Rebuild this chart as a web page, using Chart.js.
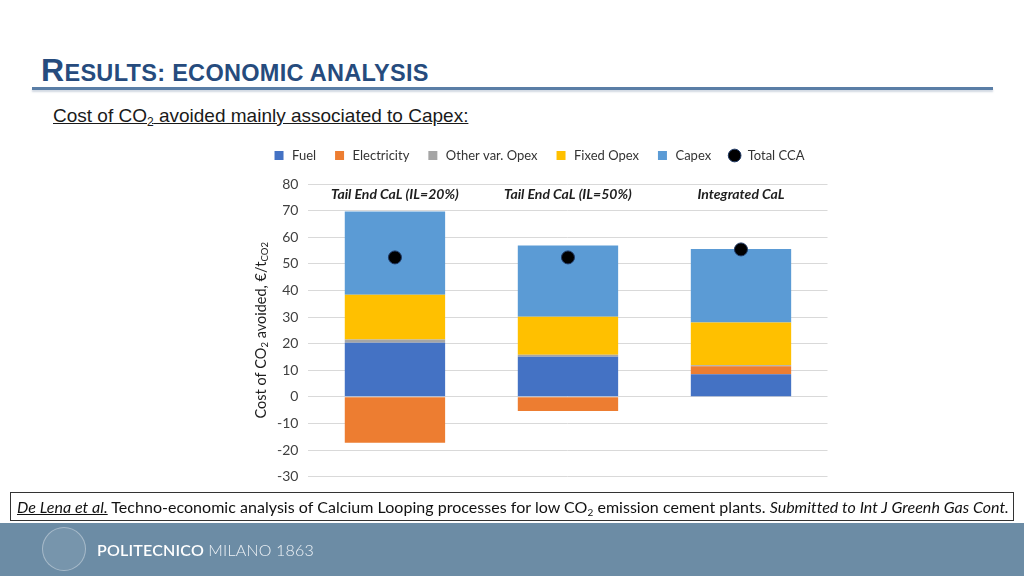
<!DOCTYPE html>
<html>
<head>
<meta charset="utf-8">
<script src="https://cdn.jsdelivr.net/npm/chart.js@4/dist/chart.umd.min.js"></script>
<style>
    html, body { margin: 0; padding: 0; background: #fff; }
    body { width: 1024px; height: 576px; position: relative; overflow: hidden; font-family: 'Liberation Sans', Arial, sans-serif; }
    .title { position: absolute; left: 41px; top: 52px; color: #264b7d; font-weight: bold; font-size: 23.5px; letter-spacing: 0.3px; }
    .title .big { font-size: 32px; }
    .rule { position: absolute; left: 32px; top: 87px; width: 961px; height: 3px; background: #5a7ea6; box-shadow: 0 2px 2px rgba(120,140,170,0.35); }
    .subtitle { position: absolute; left: 53px; top: 105px; font-size: 19px; color: #1a1a1a; text-decoration: underline; }
    .subtitle sub { font-size: 12px; vertical-align: -4px; }
    #chartWrap { position: absolute; left: 234px; top: 132px; width: 601px; height: 363px; }
    .cite { position: absolute; left: 10px; top: 492px; width: 1002px; height: 27px; border: 1px solid #333; box-sizing: content-box;
            font-family: Lato, sans-serif; font-size: 16px; color: #111; line-height: 27px; white-space: nowrap; letter-spacing: 0.03px; }
    .cite span.t { display: inline-block; padding-left: 6px; }
    .cite sub { font-size: 10px; vertical-align: -3px; line-height: 0; }
    .band { position: absolute; left: 0; top: 523px; width: 1024px; height: 53px; background: #6c8ca5; }
    .logo { position: absolute; left: 42px; top: 4px; width: 44px; height: 44px; border-radius: 50%;
            border: 1px solid rgba(255,255,255,0.35); background: rgba(255,255,255,0.08); box-sizing: border-box; }
    .brand { position: absolute; left: 97px; top: 17px; font-family: Lato, sans-serif; font-size: 16px; color: #fff; letter-spacing: 0.2px; }
    .brand b { font-weight: 600; }
    .brand span { font-weight: 300; color: #eef2f6; }
</style>
</head>
<body>
<div class="title"><span class="big">R</span>ESULTS: ECONOMIC ANALYSIS</div>
<div class="rule"></div>
<div class="subtitle">Cost of CO<sub>2</sub> avoided mainly associated to Capex:</div>

<div id="chartWrap"><canvas id="ccaChart"></canvas></div>

<div class="cite"><span class="t" id="citeText"><u><i>De Lena et al.</i></u> Techno-economic analysis of Calcium Looping processes for low CO<sub>2</sub> emission cement plants. <i>Submitted to Int J Greenh Gas Cont.</i></span></div>

<div class="band">
    <div class="logo"></div>
    <div class="brand"><b>POLITECNICO</b> <span>MILANO 1863</span></div>
</div>

<script>
// === DATA (€/t CO2 avoided) ===
const categories = ['Tail End CaL (IL=20%)', 'Tail End CaL (IL=50%)', 'Integrated CaL'];
const fuel = [20.3, 15.1, 8.5];
const electricity = [-17.3, -5.3, 3.0];
const otherVarOpex = [1.2, 0.7, 0.4];
const fixedOpex = [16.9, 14.3, 16.0];
const capex = [31.3, 26.8, 27.7];
const totalCCA = [52.4, 52.4, 55.4];
const yMin = -30, yMax = 80, yStep = 10;

const FONT = 'Lato, "Open Sans", sans-serif';

// category names sit inside the plot, just under the 80 gridline
const categoryLabels = {
    id: 'categoryLabels',
    afterDatasetsDraw(chart) {
        const { ctx, scales: { x, y } } = chart;
        ctx.save();
        ctx.font = 'italic bold 14px ' + FONT;
        ctx.fillStyle = '#1e1e1e';
        ctx.textAlign = 'center';
        ctx.textBaseline = 'middle';
        categories.forEach((c, i) => {
            ctx.fillText(c, x.getPixelForValue(i), y.getPixelForValue(76.2));
        });
        ctx.restore();
    }
};

// rotated y title with subscripts
const yTitle = {
    id: 'yTitle',
    afterDraw(chart) {
        const { ctx, chartArea } = chart;
        const parts = [
            ['Cost of CO', 14.5, 0], ['2', 9.5, 3], [' avoided, €/t', 14.5, 0], ['CO2', 9.5, 3]
        ];
        ctx.save();
        let total = 0;
        parts.forEach(p => { ctx.font = p[1] + 'px ' + FONT; total += ctx.measureText(p[0]).width; });
        ctx.translate(chartArea.left - 47, (chartArea.top + chartArea.bottom) / 2);
        ctx.rotate(-Math.PI / 2);
        ctx.fillStyle = '#1e1e1e';
        ctx.textBaseline = 'middle';
        let xPos = -total / 2;
        parts.forEach(p => {
            ctx.font = p[1] + 'px ' + FONT;
            ctx.fillText(p[0], xPos, p[2]);
            xPos += ctx.measureText(p[0]).width;
        });
        ctx.restore();
    }
};

// a bit more room between legend and plot
const legendGap = {
    id: 'legendGap',
    beforeInit(chart) {
        const fit = chart.legend.fit;
        chart.legend.fit = function () {
            fit.bind(chart.legend)();
            this.height += 12;
        };
    }
};

function barSet(label, data, color) {
    return {
        type: 'bar',
        label: label,
        data: data,
        backgroundColor: color,
        borderWidth: 0,
        stack: 'cost',
        order: 1,
        barPercentage: 0.58,
        categoryPercentage: 1,
    };
}

function createChart() {
    const ctx = document.getElementById('ccaChart').getContext('2d');
    new Chart(ctx, {
        data: {
            labels: categories,
            datasets: [
                barSet('Fuel', fuel, '#4472c4'),
                barSet('Electricity', electricity, '#ed7d31'),
                barSet('Other var. Opex', otherVarOpex, '#a5a5a5'),
                barSet('Fixed Opex', fixedOpex, '#ffc000'),
                barSet('Capex', capex, '#5b9bd5'),
                {
                    type: 'line',
                    label: 'Total CCA',
                    data: totalCCA,
                    showLine: false,
                    stack: 'total',
                    order: 0,
                    pointRadius: 6.5,
                    pointStyle: 'circle',
                    pointBackgroundColor: '#000000',
                    pointBorderColor: '#1f3864',
                    pointBorderWidth: 1,
                    borderColor: '#1f3864',
                    backgroundColor: '#000000',
                }
            ]
        },
        options: {
            responsive: true,
            maintainAspectRatio: false,
            animation: false,
            layout: { padding: { left: 13, right: 5, top: 0, bottom: 4 } },
            plugins: {
                legend: {
                    display: true,
                    position: 'top',
                    labels: {
                        color: '#333',
                        font: { size: 13, family: FONT },
                        usePointStyle: true,
                        boxHeight: 9,
                        padding: 17,
                        sort: (a, b) => a.datasetIndex - b.datasetIndex,
                        generateLabels(chart) {
                            const items = Chart.defaults.plugins.legend.labels.generateLabels(chart);
                            items.forEach(it => {
                                const ds = chart.data.datasets[it.datasetIndex];
                                if (ds.type === 'line') {
                                    it.pointStyle = 'circle';
                                    it.fillStyle = '#000';
                                    it.strokeStyle = '#1f3864';
                                    it.lineWidth = 1;
                                } else {
                                    it.pointStyle = 'rect';
                                    it.lineWidth = 0;
                                }
                            });
                            return items;
                        }
                    }
                },
                tooltip: { enabled: false }
            },
            scales: {
                x: {
                    display: false,
                    stacked: true,
                },
                y: {
                    stacked: true,
                    min: yMin,
                    max: yMax,
                    // leave room for the hand-drawn axis title
                    afterFit(scale) { scale.width += 20; },
                    ticks: { stepSize: yStep, color: '#404040', padding: 10, font: { size: 14, family: FONT } },
                    grid: { color: '#d9d9d9', lineWidth: 1, drawTicks: false },
                    border: { display: false }
                }
            }
        },
        plugins: [categoryLabels, yTitle, legendGap]
    });
}

document.addEventListener('DOMContentLoaded', createChart);
</script>
</body>
</html>
